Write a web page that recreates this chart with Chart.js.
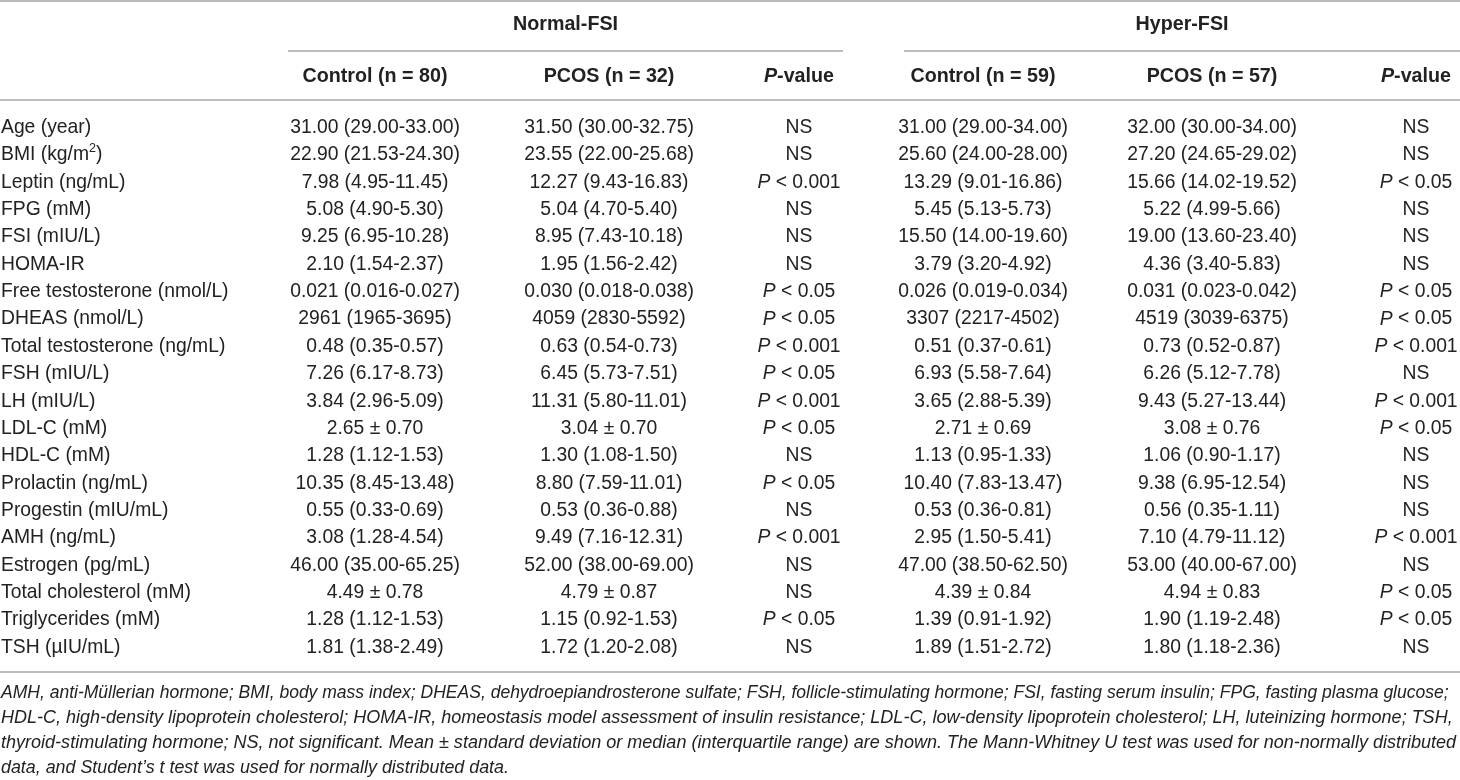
<!DOCTYPE html>
<html>
<head>
<meta charset="utf-8">
<script src="https://cdn.jsdelivr.net/npm/chart.js@4.4.1/dist/chart.umd.min.js"></script>
<style>
  html, body { margin: 0; padding: 0; background: #fff; }
  #table { display: block; }
</style>
</head>
<body>
<canvas id="table" width="1460" height="780"></canvas>
<script>
// ---- table data ----
const rowLabels = [
  'Age (year)', 'BMI (kg/m^2)', 'Leptin (ng/mL)', 'FPG (mM)', 'FSI (mIU/L)', 'HOMA-IR',
  'Free testosterone (nmol/L)', 'DHEAS (nmol/L)', 'Total testosterone (ng/mL)', 'FSH (mIU/L)',
  'LH (mIU/L)', 'LDL-C (mM)', 'HDL-C (mM)', 'Prolactin (ng/mL)', 'Progestin (mIU/mL)',
  'AMH (ng/mL)', 'Estrogen (pg/mL)', 'Total cholesterol (mM)', 'Triglycerides (mM)', 'TSH (µIU/mL)'
];
const groupTitles = ['Normal-FSI', 'Hyper-FSI'];
const columnTitles = ['Control (n = 80)', 'PCOS (n = 32)', 'P-value', 'Control (n = 59)', 'PCOS (n = 57)', 'P-value'];

const normalControl = [
  '31.00 (29.00-33.00)', '22.90 (21.53-24.30)', '7.98 (4.95-11.45)', '5.08 (4.90-5.30)', '9.25 (6.95-10.28)',
  '2.10 (1.54-2.37)', '0.021 (0.016-0.027)', '2961 (1965-3695)', '0.48 (0.35-0.57)', '7.26 (6.17-8.73)',
  '3.84 (2.96-5.09)', '2.65 ± 0.70', '1.28 (1.12-1.53)', '10.35 (8.45-13.48)', '0.55 (0.33-0.69)',
  '3.08 (1.28-4.54)', '46.00 (35.00-65.25)', '4.49 ± 0.78', '1.28 (1.12-1.53)', '1.81 (1.38-2.49)'
];
const normalPcos = [
  '31.50 (30.00-32.75)', '23.55 (22.00-25.68)', '12.27 (9.43-16.83)', '5.04 (4.70-5.40)', '8.95 (7.43-10.18)',
  '1.95 (1.56-2.42)', '0.030 (0.018-0.038)', '4059 (2830-5592)', '0.63 (0.54-0.73)', '6.45 (5.73-7.51)',
  '11.31 (5.80-11.01)', '3.04 ± 0.70', '1.30 (1.08-1.50)', '8.80 (7.59-11.01)', '0.53 (0.36-0.88)',
  '9.49 (7.16-12.31)', '52.00 (38.00-69.00)', '4.79 ± 0.87', '1.15 (0.92-1.53)', '1.72 (1.20-2.08)'
];
const normalP = [
  'NS', 'NS', 'P < 0.001', 'NS', 'NS', 'NS', 'P < 0.05', 'P < 0.05', 'P < 0.001', 'P < 0.05',
  'P < 0.001', 'P < 0.05', 'NS', 'P < 0.05', 'NS', 'P < 0.001', 'NS', 'NS', 'P < 0.05', 'NS'
];
const hyperControl = [
  '31.00 (29.00-34.00)', '25.60 (24.00-28.00)', '13.29 (9.01-16.86)', '5.45 (5.13-5.73)', '15.50 (14.00-19.60)',
  '3.79 (3.20-4.92)', '0.026 (0.019-0.034)', '3307 (2217-4502)', '0.51 (0.37-0.61)', '6.93 (5.58-7.64)',
  '3.65 (2.88-5.39)', '2.71 ± 0.69', '1.13 (0.95-1.33)', '10.40 (7.83-13.47)', '0.53 (0.36-0.81)',
  '2.95 (1.50-5.41)', '47.00 (38.50-62.50)', '4.39 ± 0.84', '1.39 (0.91-1.92)', '1.89 (1.51-2.72)'
];
const hyperPcos = [
  '32.00 (30.00-34.00)', '27.20 (24.65-29.02)', '15.66 (14.02-19.52)', '5.22 (4.99-5.66)', '19.00 (13.60-23.40)',
  '4.36 (3.40-5.83)', '0.031 (0.023-0.042)', '4519 (3039-6375)', '0.73 (0.52-0.87)', '6.26 (5.12-7.78)',
  '9.43 (5.27-13.44)', '3.08 ± 0.76', '1.06 (0.90-1.17)', '9.38 (6.95-12.54)', '0.56 (0.35-1.11)',
  '7.10 (4.79-11.12)', '53.00 (40.00-67.00)', '4.94 ± 0.83', '1.90 (1.19-2.48)', '1.80 (1.18-2.36)'
];
const hyperP = [
  'NS', 'NS', 'P < 0.05', 'NS', 'NS', 'NS', 'P < 0.05', 'P < 0.05', 'P < 0.001', 'NS',
  'P < 0.001', 'P < 0.05', 'NS', 'NS', 'NS', 'P < 0.001', 'NS', 'P < 0.05', 'P < 0.05', 'NS'
];
const footnotes = [
  'AMH, anti-Müllerian hormone; BMI, body mass index; DHEAS, dehydroepiandrosterone sulfate; FSH, follicle-stimulating hormone; FSI, fasting serum insulin; FPG, fasting plasma glucose;',
  'HDL-C, high-density lipoprotein cholesterol; HOMA-IR, homeostasis model assessment of insulin resistance; LDL-C, low-density lipoprotein cholesterol; LH, luteinizing hormone; TSH,',
  'thyroid-stimulating hormone; NS, not significant. Mean ± standard deviation or median (interquartile range) are shown. The Mann-Whitney U test was used for non-normally distributed',
  'data, and Student’s t test was used for normally distributed data.'
];

// ---- layout (pixels on the x scale, which runs 0..1460) ----
const LABEL_X = 1;
const COL_X = [375, 609, 799, 983, 1212, 1416];
const GROUP_SPAN = [[288, 843], [904, 1460]];
const TOP_RULE_Y = 1, GROUP_Y = 25, GROUP_RULE_Y = 51, HEAD_Y = 77, HEAD_RULE_Y = 100;
const BOTTOM_RULE_Y = 672, FOOT_Y = 693, FOOT_STEP = 25;
const FOOT_WIDTHS = [1448, 1452, 1456]; // measured line lengths of the full footnote lines
const FAMILY = '"Liberation Sans", Arial, sans-serif';
const INK = '#222';
const RULE = '#a6a6a6';

const cellColumns = [normalControl, normalPcos, normalP, hyperControl, hyperPcos, hyperP];

// text pieces: italic P in p-values, superscript after ^
function pieces(text) {
  if (text.startsWith('P ') || text === 'P-value') {
    return [{ t: 'P', it: true }, { t: text.slice(1) }];
  }
  if (text.includes('^')) {
    const [a, b] = text.split('^');
    return [{ t: a }, { t: b.charAt(0), sup: true }, { t: b.slice(1) }];
  }
  return [{ t: text }];
}

function fontFor(p, size, bold) {
  const s = p.sup ? size * 0.65 : size;
  return (p.it ? 'italic ' : '') + (bold ? 'bold ' : '') + s.toFixed(2) + 'px ' + FAMILY;
}

function drawRich(ctx, text, x, y, align, size, bold) {
  const parts = pieces(text);
  let total = 0;
  parts.forEach(p => { ctx.font = fontFor(p, size, bold); p.w = ctx.measureText(p.t).width; total += p.w; });
  let cx = align === 'left' ? x : x - total / 2;
  parts.forEach(p => {
    ctx.font = fontFor(p, size, bold);
    ctx.fillText(p.t, cx, p.sup ? y - size * 0.35 : y);
    cx += p.w;
  });
}

function fitSize(ctx, text, style, target) {
  ctx.font = style + '20px ' + FAMILY;
  return 20 * target / ctx.measureText(text).width;
}

const tablePlugin = {
  id: 'tableText',
  afterDatasetsDraw(chart) {
    const ctx = chart.ctx;
    const xs = chart.scales.x;
    ctx.save();
    const bodySize = fitSize(ctx, 'Total cholesterol (mM)', '', 190);
    const headSize = fitSize(ctx, 'Control (n = 80)', 'bold ', 145);
    const footSizes = FOOT_WIDTHS.map((w, i) => fitSize(ctx, footnotes[i], 'italic ', w));
    footSizes.push(footSizes.reduce((a, b) => a + b, 0) / footSizes.length);

    // rules
    ctx.strokeStyle = RULE;
    ctx.lineWidth = 1.6;
    const hline = (x0, x1, y) => {
      ctx.beginPath();
      ctx.moveTo(xs.getPixelForValue(x0), y);
      ctx.lineTo(xs.getPixelForValue(x1), y);
      ctx.stroke();
    };
    hline(0, 1460, TOP_RULE_Y);
    GROUP_SPAN.forEach(s => hline(s[0], s[1], GROUP_RULE_Y));
    hline(0, 1460, HEAD_RULE_Y);
    hline(0, 1460, BOTTOM_RULE_Y);

    ctx.fillStyle = INK;
    ctx.textBaseline = 'middle';
    // headers
    groupTitles.forEach((g, i) => {
      const c = xs.getPixelForValue((GROUP_SPAN[i][0] + GROUP_SPAN[i][1]) / 2);
      drawRich(ctx, g, c, GROUP_Y, 'center', headSize, true);
    });
    columnTitles.forEach((t, i) => drawRich(ctx, t, xs.getPixelForValue(COL_X[i]), HEAD_Y, 'center', headSize, true));

    // body cells, placed at the scatter points
    chart.data.datasets.forEach((ds, di) => {
      const meta = chart.getDatasetMeta(di);
      meta.data.forEach((pt, i) => {
        drawRich(ctx, ds.cells[i], pt.x, pt.y, ds.align, bodySize, false);
      });
    });

    // footnote
    ctx.textAlign = 'left';
    footnotes.forEach((f, i) => {
      ctx.font = 'italic ' + footSizes[i].toFixed(2) + 'px ' + FAMILY;
      ctx.fillText(f, 1, FOOT_Y + i * FOOT_STEP);
    });
    ctx.restore();
  }
};

const datasets = [{
  label: 'label',
  cells: rowLabels,
  align: 'left',
  data: rowLabels.map(r => ({ x: LABEL_X, y: r }))
}].concat(cellColumns.map((col, c) => ({
  label: columnTitles[c],
  cells: col,
  align: 'center',
  data: rowLabels.map(r => ({ x: COL_X[c], y: r }))
})));
datasets.forEach(d => { d.pointRadius = 0; d.pointHoverRadius = 0; d.showLine = false; });

new Chart(document.getElementById('table'), {
  type: 'scatter',
  data: { datasets: datasets },
  options: {
    responsive: false,
    animation: false,
    devicePixelRatio: 1,
    layout: { padding: { top: 114, bottom: 119, left: 0, right: 0 } },
    scales: {
      x: { type: 'linear', min: 0, max: 1460, display: false },
      y: { type: 'category', labels: rowLabels, offset: true, display: false }
    },
    plugins: { legend: { display: false }, tooltip: { enabled: false } },
    events: []
  },
  plugins: [tablePlugin]
});
</script>
</body>
</html>
